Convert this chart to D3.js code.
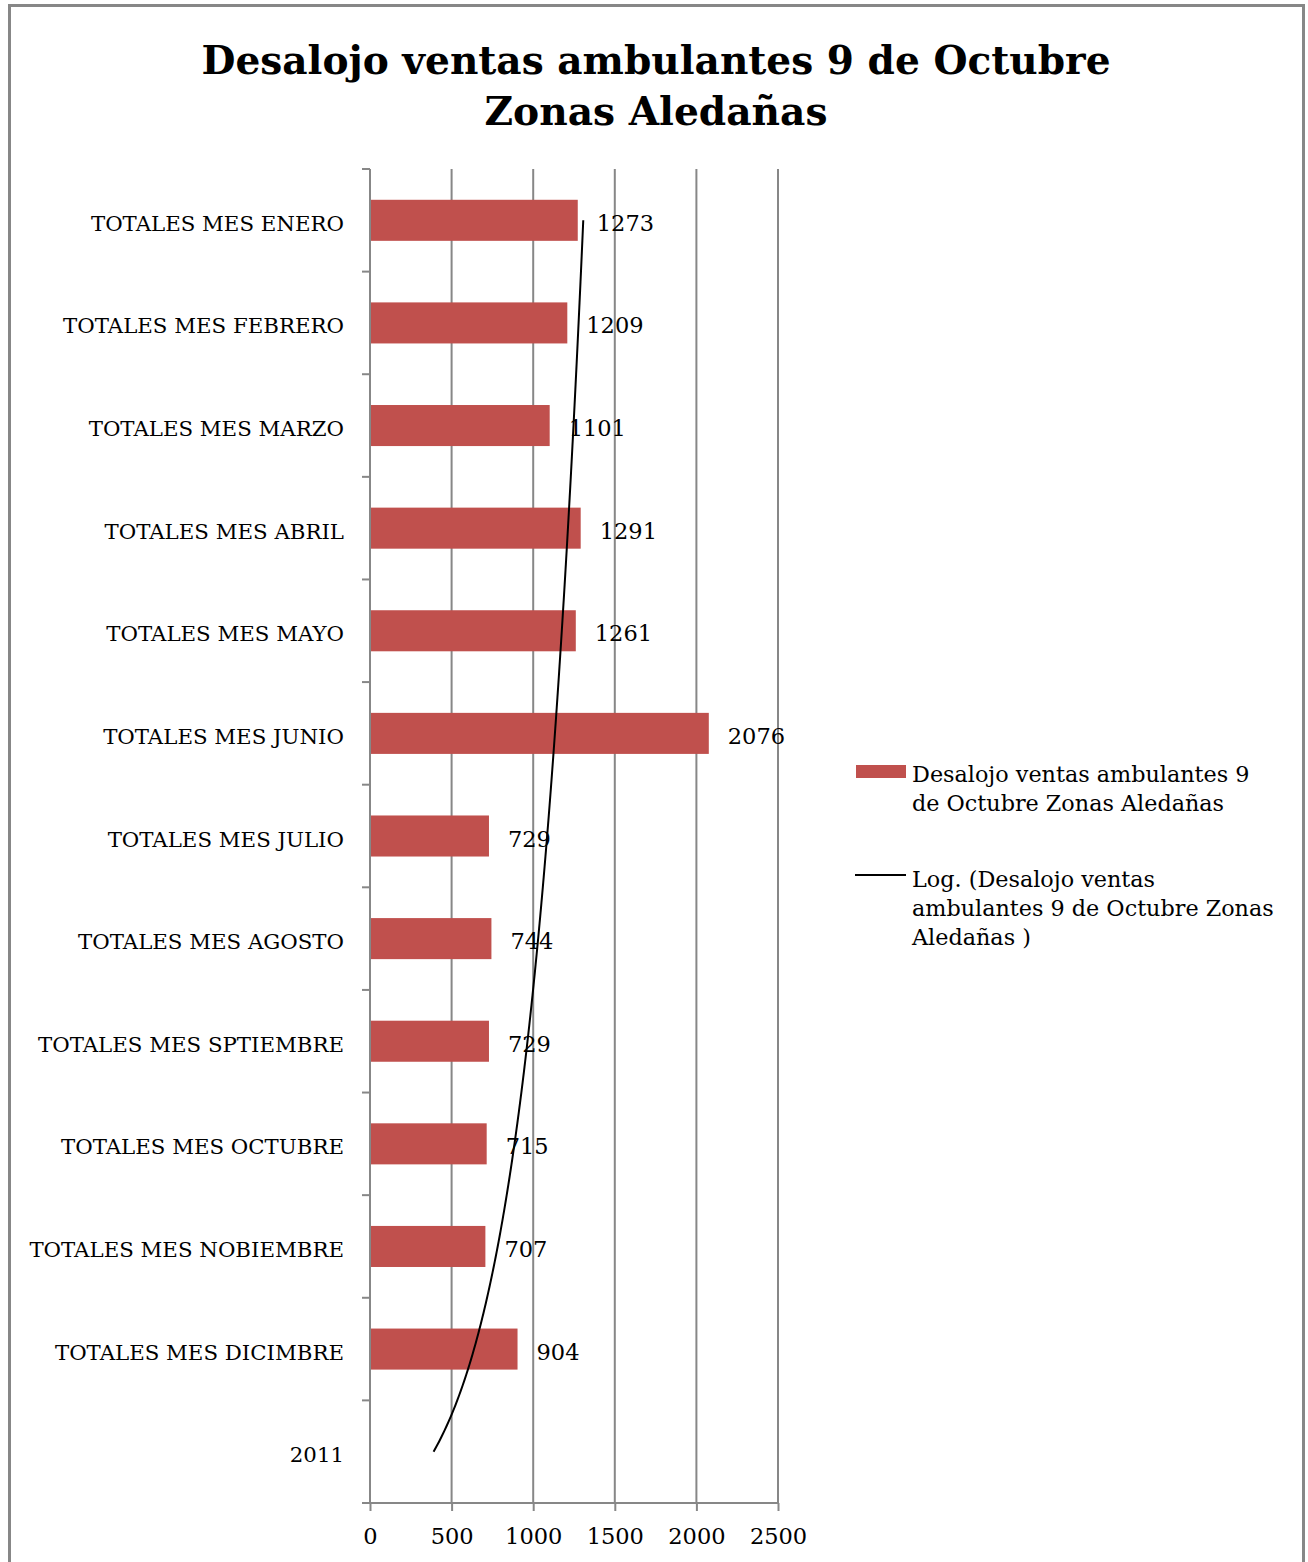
<!DOCTYPE html>
<html><head><meta charset="utf-8">
<script src="https://cdn.jsdelivr.net/npm/d3@7"></script>
<style>html,body{margin:0;padding:0;background:#fff;}svg{display:block;}</style>
</head><body>
<script>
const categories = ["TOTALES MES ENERO","TOTALES MES FEBRERO","TOTALES MES MARZO","TOTALES MES ABRIL","TOTALES MES MAYO","TOTALES MES JUNIO","TOTALES MES JULIO","TOTALES MES AGOSTO","TOTALES MES SPTIEMBRE","TOTALES MES OCTUBRE","TOTALES MES NOBIEMBRE","TOTALES MES DICIMBRE","2011"];
const values = [1273,1209,1101,1291,1261,2076,729,744,729,715,707,904,null];
const xTicks = [0,500,1000,1500,2000,2500];
const titleLines = ["Desalojo ventas ambulantes 9 de Octubre","Zonas Aledañas"];
const legendBarLines = ["Desalojo ventas ambulantes 9","de Octubre Zonas Aledañas"];
const legendTrendLines = ["Log. (Desalojo ventas","ambulantes 9 de Octubre Zonas","Aledañas )"];

const W = 1308, H = 1562;
const FONT = "'DejaVu Serif', serif";
const svg = d3.select("body").append("svg").attr("width", W).attr("height", H);

// outer border
svg.append("rect").attr("x",9.5).attr("y",5.5).attr("width",1294).attr("height",1600)
  .attr("fill","none").attr("stroke","#878787").attr("stroke-width",3);

// title
const titleWidths = [909, 343];
titleLines.forEach((t,i)=>{
  svg.append("text").attr("x",656).attr("y",74+i*51).attr("text-anchor","middle")
    .attr("font-family","'DejaVu Serif Condensed','DejaVu Serif',serif").attr("font-weight","bold")
    .attr("font-stretch","condensed").attr("font-size",40).attr("fill","#000")
    .attr("textLength",titleWidths[i]).attr("lengthAdjust","spacingAndGlyphs")
    .text(t);
});

const pL = 370, pR = 778, pT = 169, pB = 1503;
const x = d3.scaleLinear().domain([0,2500]).range([pL,pR]);
const y = d3.scaleBand().domain(categories).range([pT,pB]).paddingInner(0.6).paddingOuter(0.3);
const gray = "#878787";

// gridlines
svg.append("g").selectAll("line").data(xTicks.filter(d=>d>0)).join("line")
  .attr("x1",d=>x(d)).attr("x2",d=>x(d)).attr("y1",pT).attr("y2",pB)
  .attr("stroke",gray).attr("stroke-width",2);

// bars
const rows = categories.map((c,i)=>({c,v:values[i]})).filter(d=>d.v!=null);
svg.append("g").selectAll("rect").data(rows).join("rect")
  .attr("x",x(0)).attr("y",d=>y(d.c)).attr("width",d=>x(d.v)-x(0)).attr("height",y.bandwidth())
  .attr("fill","#C0504D");

// y axis
const step = y.step();
const yAxisG = svg.append("g");
yAxisG.append("line").attr("x1",pL).attr("x2",pL).attr("y1",pT).attr("y2",pB).attr("stroke",gray).attr("stroke-width",2);
const bounds = d3.range(categories.length+1).map(i=>pT+i*step);
yAxisG.selectAll("line.t").data(bounds).join("line").attr("class","t")
  .attr("x1",pL-8).attr("x2",pL).attr("y1",d=>d).attr("y2",d=>d).attr("stroke",gray).attr("stroke-width",2);
yAxisG.selectAll("text").data(categories).join("text")
  .attr("x",344).attr("y",c=>y(c)+y.bandwidth()/2+10.5).attr("text-anchor","end")
  .attr("font-family",FONT).attr("font-size",21.3).attr("fill","#000").text(c=>c);

// x axis
const xAxisG = svg.append("g").attr("transform",`translate(0,${pB})`)
  .call(d3.axisBottom(x).tickValues(xTicks).tickSize(8).tickSizeOuter(0).tickFormat(d3.format("d")));
xAxisG.select(".domain").attr("stroke",gray).attr("stroke-width",2).attr("d",`M${pL-8},0H${pR}`);
xAxisG.selectAll(".tick line").attr("stroke",gray).attr("stroke-width",2);
xAxisG.selectAll(".tick text").attr("font-family",FONT).attr("font-size",22.5).attr("fill","#000").attr("dy",0).attr("y",41);

// trendline: logarithmic regression over category index (bottom category = 1)
const n = categories.length;
const pts = categories.map((c,i)=>({k:n-i, v:values[i]})).filter(d=>d.v!=null);
const lx = pts.map(d=>Math.log(d.k)), ly = pts.map(d=>d.v);
const mx = d3.mean(lx), my = d3.mean(ly);
const b = d3.sum(lx.map((l,i)=>(l-mx)*(ly[i]-my))) / d3.sum(lx.map(l=>(l-mx)*(l-mx)));
const a = my - b*mx;
const kToY = d3.scaleLinear().domain([1,n]).range([y(categories[n-1])+y.bandwidth()/2, y(categories[0])+y.bandwidth()/2]);
const trend = d3.range(1, n+0.0001, 0.05).map(k=>({k, v:a+b*Math.log(k)}));
svg.append("path").datum(trend)
  .attr("d", d3.line().x(d=>x(d.v)).y(d=>kToY(d.k)))
  .attr("fill","none").attr("stroke","#000").attr("stroke-width",2);

// value labels
svg.append("g").selectAll("text").data(rows).join("text")
  .attr("x",d=>x(d.v)+19).attr("y",d=>y(d.c)+y.bandwidth()/2+10.5)
  .attr("font-family",FONT).attr("font-size",22.5).attr("fill","#000").text(d=>d.v);

// legend
const lg = svg.append("g");
lg.append("rect").attr("x",856).attr("y",765).attr("width",50).attr("height",13).attr("fill","#C0504D");
legendBarLines.forEach((t,i)=>lg.append("text").attr("x",912).attr("y",782+i*29)
  .attr("font-family",FONT).attr("font-size",22.3).attr("fill","#000").text(t));
lg.append("line").attr("x1",855).attr("x2",906).attr("y1",875).attr("y2",875).attr("stroke","#000").attr("stroke-width",2);
legendTrendLines.forEach((t,i)=>lg.append("text").attr("x",912).attr("y",887+i*29)
  .attr("font-family",FONT).attr("font-size",22.3).attr("fill","#000").text(t));
</script>
</body></html>
